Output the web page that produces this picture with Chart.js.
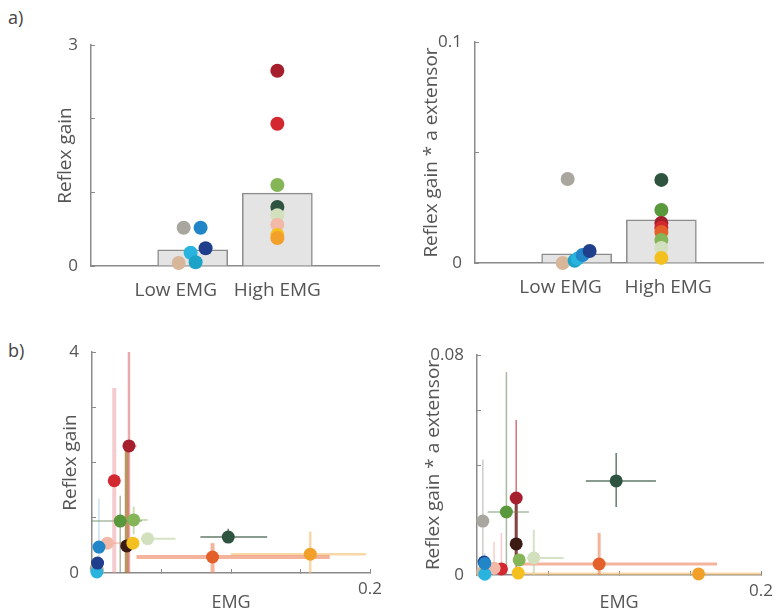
<!DOCTYPE html>
<html><head><meta charset="utf-8">
<script src="https://cdn.jsdelivr.net/npm/chart.js@4.4.1/dist/chart.umd.min.js"></script>
<style>
html,body{margin:0;padding:0;background:#fff;width:783px;height:616px;overflow:hidden;}
canvas{position:absolute;}
.lab{position:absolute;font-family:"Open Sans",sans-serif;font-size:18px;line-height:1;color:#444;}
</style></head><body>
<div class="lab" style="left:8px;top:8px">a)</div>
<div class="lab" style="left:8px;top:341px">b)</div>
<canvas id="cA" width="392" height="310" style="left:0;top:0"></canvas>
<canvas id="cB" width="391" height="310" style="left:392px;top:0"></canvas>
<canvas id="cC" width="392" height="306" style="left:0;top:310px"></canvas>
<canvas id="cD" width="391" height="306" style="left:392px;top:310px"></canvas>
<script>
// ---------------- DATA ----------------
const catLabels = ['Low EMG', 'High EMG'];

// panel a-left: Reflex gain
const barMeansA = [0.22, 0.99];
const lowDotsA  = [0.52, 0.52, 0.24, 0.18, 0.05, 0.04];
const highDotsA = [2.65, 1.93, 1.10, 0.80, 0.69, 0.56, 0.42, 0.38];
const yTicksA = [0, 1, 2, 3];
const yTickLabelsA = ['0', '', '', '3'];

// panel a-right: Reflex gain * a extensor
const barMeansB = [0.0042, 0.0195];
const lowDotsB  = [0.038, 0.0, 0.001, 0.002, 0.0036, 0.0054];
const highDotsB = [0.0376, 0.024, 0.0181, 0.016, 0.014, 0.0104, 0.0068, 0.0023];
const yTicksB = [0, 0.05, 0.1];
const yTickLabelsB = ['0', '', '0.1'];

// panel b: per subject (draw order)
// darkred, red, orangered, orange, darkgreen, palegreen, green, green2, darkbrown, yellow, peach, gray, tan, cyan, darkblue, blue
const emgC    = [0.0266, 0.016, 0.0867, 0.157, 0.098, 0.040, 0.0203, 0.030, 0.025, 0.0294, 0.011, 0.003, 0.004, 0.0035, 0.004, 0.005];
const gainC   = [2.30, 1.67, 0.29, 0.34, 0.65, 0.62, 0.94, 0.96, 0.49, 0.54, 0.54, 0.08, 0.05, 0.02, 0.18, 0.47];
const emgLoC  = [0.022, null, 0.032, 0.100, 0.078, 0.035, 0.000, 0.024, null, null, 0.008, null, null, null, null, null];
const emgHiC  = [0.032, null, 0.171, 0.197, 0.126, 0.060, 0.036, 0.040, null, null, 0.030, null, null, null, null, null];
const gainLoC = [0, 0, 0, 0, 0.55, null, 0, 0.70, 0, null, null, null, null, null, null, 0];
const gainHiC = [4.0, 3.35, 0.54, 0.75, 0.80, null, 1.40, 1.20, 2.30, null, null, null, null, null, null, 1.35];
const yTicksC = [0, 1, 2, 3, 4];
const yTickLabelsC = ['0', '', '', '', '4'];

const emgD    = [0.0276, 0.0172, 0.086, 0.156, 0.098, 0.040, 0.0207, 0.0297, 0.0276, 0.029, 0.012, 0.0041, 0.004, 0.0055, 0.005, 0.0055];
const gainD   = [0.028, 0.0022, 0.004, 0.0004, 0.0342, 0.0062, 0.0229, 0.0055, 0.0113, 0.0007, 0.0025, 0.0196, 0.001, 0.0003, 0.0047, 0.0042];
const emgLoD  = [null, null, 0.0297, 0.030, 0.0766, 0.035, 0.0076, null, null, null, null, null, null, null, null, null];
const emgHiD  = [null, null, 0.169, 0.200, 0.126, 0.061, 0.0366, null, null, null, null, null, null, null, null, null];
const gainLoD = [0, 0, 0, null, 0.0247, 0, 0, null, 0.004, null, 0, 0, null, null, null, 0];
const gainHiD = [0.0564, 0.0153, 0.0153, null, 0.0444, 0.0164, 0.0738, null, 0.028, null, 0.012, 0.042, null, null, null, 0.008];
const yTicksD = [0, 0.02, 0.04, 0.06, 0.08];
const yTickLabelsD = ['0', '', '', '', '0.08'];

const emgTicks = [0, 0.05, 0.1, 0.15, 0.2];
const emgTickLabels = ['', '', '', '', '0.2'];

// ---------------- STYLE / LAYOUT ----------------
const P = {darkred:'#a51f2c', red:'#d3282f', orangered:'#e3602b', orange:'#f2a02a', yellow:'#f3c01f',
  peach:'#f2b9a8', green2:'#84b556', green:'#5a983c', darkgreen:'#2e5440', palegreen:'#d2e0be',
  darkbrown:'#3b1b13', gray:'#a8a69e', blue:'#2186c7', darkblue:'#1f3e8b', cyan:'#29b3df', teal:'#1da3c8', tan:'#d8b699'};
const lowColA  = [P.gray, P.blue, P.darkblue, P.cyan, P.teal, P.tan];
const lowJitA  = [-0.106, 0.094, 0.153, -0.024, 0.035, -0.165];
const highColA = [P.darkred, P.red, P.green2, P.darkgreen, P.palegreen, P.peach, P.yellow, P.orange];
const lowColB  = [P.gray, P.tan, P.teal, P.cyan, P.blue, P.darkblue];
const lowJitB  = [-0.106, -0.165, -0.024, 0.012, 0.07, 0.153];
const highColB = [P.darkgreen, P.green, P.darkred, P.red, P.orangered, P.green2, P.palegreen, P.yellow];
const subjCol = [P.darkred, P.red, P.orangered, P.orange, P.darkgreen, P.palegreen, P.green, P.green2, P.darkbrown, P.yellow, P.peach, P.gray, P.tan, P.cyan, P.darkblue, P.blue];
const errCol = ['rgba(215,100,105,0.55)','rgba(236,140,150,0.45)','rgba(236,130,90,0.6)','rgba(245,190,110,0.6)',
  'rgba(60,90,70,0.8)','rgba(200,220,180,0.8)','rgba(110,140,100,0.6)','rgba(150,190,110,0.5)',
  'rgba(165,115,45,0.75)','rgba(240,200,80,0.5)','rgba(245,190,175,0.7)','rgba(170,170,165,0.6)',
  'rgba(215,180,150,0.5)','rgba(120,190,225,0.4)','rgba(80,110,180,0.4)','rgba(120,180,220,0.4)'];
const errColD = errCol.slice(); errColD[8] = 'rgba(70,30,25,0.85)'; errColD[0] = 'rgba(190,60,65,0.7)';
const errW  = [2.5, 4, 4, 2.5, 1.5, 2, 1.5, 2, 4, 2, 2, 1.5, 1.5, 1.5, 1.5, 1.5];
const errWD = [1.5, 1.5, 3, 3, 1.5, 2, 1.5, 2, 3, 2, 1.5, 1.5, 1.5, 1.5, 1.5, 1.5];
const catPos = [1.2, 2.2];
const AXIS = '#8a8a8a';
const TXT = '#555';

Chart.defaults.font.family = '"Open Sans", "DejaVu Sans", sans-serif';
Chart.defaults.font.size = 17;
Chart.defaults.color = TXT;
Chart.defaults.animation = false;

function yAxis(min, max, ticks, labels, title, width, titlePad, labPad) {
  return {
    type: 'linear', min, max,
    afterBuildTicks: s => { s.ticks = ticks.map(v => ({value: v})); },
    afterFit: s => { s.width = width; },
    ticks: {callback: (v, i) => labels[i], padding: labPad, autoSkip: false, color: TXT, font: {size: 17}},
    grid: {drawOnChartArea: false, color: AXIS, tickLength: -4, lineWidth: 1},
    border: {color: AXIS, width: 1.5},
    title: {display: true, text: title, color: TXT, font: {size: 19}, padding: {top: titlePad, bottom: 0}}
  };
}
function catAxis(height, labelShift) {
  return {
    type: 'linear', min: 0, max: 3.4, offset: false,
    afterBuildTicks: s => { s.ticks = catLabels.map((_, i) => ({value: catPos[i] + labelShift[i]})); },
    afterFit: s => { s.height = height; },
    ticks: {callback: (v, i) => catLabels[i], padding: 5, autoSkip: false, maxRotation: 0, color: TXT, font: {size: 19}},
    grid: {display: false, offset: false},
    border: {color: AXIS, width: 1.5}
  };
}
function emgAxis(height) {
  return {
    type: 'linear', min: 0, max: 0.2,
    afterBuildTicks: s => { s.ticks = emgTicks.map(v => ({value: v})); },
    afterFit: s => { s.height = height; },
    ticks: {callback: (v, i) => emgTickLabels[i], padding: 10, autoSkip: false, maxRotation: 0, color: TXT, font: {size: 17}},
    grid: {drawOnChartArea: false, color: AXIS, tickLength: -4, lineWidth: 1},
    border: {color: AXIS, width: 1.5},
    title: {display: true, text: 'EMG', color: TXT, font: {size: 18}, padding: {top: 0, bottom: 2}}
  };
}
function dotsDataset(points, colors, r) {
  return {type: 'scatter', data: points, pointRadius: r, pointHoverRadius: r,
    pointBackgroundColor: colors, pointBorderWidth: 0, clip: false, order: 1};
}
function barChart(id, means, low, lowCol, lowJit, high, highCol, yax, xHeight, labelShift, pad) {
  new Chart(document.getElementById(id), {
    type: 'bar',
    data: {datasets: [
      {type: 'bar', data: means.map((m, i) => ({x: catPos[i], y: m})), barThickness: 70,
       backgroundColor: '#e4e4e4', borderColor: '#8c8c8c', borderWidth: 1.5, order: 3},
      dotsDataset(low.map((v, i) => ({x: catPos[0] + lowJit[i], y: v})), lowCol, 7),
      dotsDataset(high.map(v => ({x: catPos[1], y: v})), highCol, 7)
    ]},
    options: {responsive: false, animation: false, layout: {padding: pad},
      plugins: {legend: {display: false}, tooltip: {enabled: false}},
      scales: {x: catAxis(xHeight, labelShift), y: yax}}
  });
}
function errSets(xs, ys, xlo, xhi, ylo, yhi, cols, widths) {
  const ds = [];
  xs.forEach((x, i) => {
    const seg = d => ({type: 'scatter', data: d, showLine: true, pointRadius: 0, borderColor: cols[i],
      borderWidth: widths[i], borderCapStyle: 'butt', fill: false, order: 2});
    if (xlo[i] != null) ds.push(seg([{x: xlo[i], y: ys[i]}, {x: xhi[i], y: ys[i]}]));
    if (ylo[i] != null) ds.push(seg([{x: x, y: ylo[i]}, {x: x, y: yhi[i]}]));
  });
  return ds;
}
function scatterChart(id, xs, ys, xlo, xhi, ylo, yhi, ecol, ew, yax, xHeight, pad) {
  new Chart(document.getElementById(id), {
    type: 'scatter',
    data: {datasets: errSets(xs, ys, xlo, xhi, ylo, yhi, ecol, ew).concat([
      dotsDataset(xs.map((x, i) => ({x, y: ys[i]})), subjCol, 6.5)])},
    options: {responsive: false, animation: false, layout: {padding: pad},
      plugins: {legend: {display: false}, tooltip: {enabled: false}},
      scales: {x: emgAxis(xHeight), y: yax}}
  });
}

barChart('cA', barMeansA, lowDotsA, lowColA, lowJitA, highDotsA, highColA,
  yAxis(0, 3, yTicksA, yTickLabelsA, 'Reflex gain', 91, 54, 17), 44, [-0.2, 0], {left: 0, top: 45, right: 13, bottom: 0});
barChart('cB', barMeansB, lowDotsB, lowColB, lowJitB, highDotsB, highColB,
  yAxis(0, 0.1, yTicksB, yTickLabelsB, 'Reflex gain * a extensor', 83, 28, 17), 47, [-0.19, 0.08], {left: 0, top: 42, right: 20, bottom: 0});
scatterChart('cC', emgC, gainC, emgLoC, emgHiC, gainLoC, gainHiC, errCol, errW,
  yAxis(0, 4, yTicksC, yTickLabelsC, 'Reflex gain', 92, 59, 17), 43, {left: 0, top: 42, right: 14, bottom: 0});
scatterChart('cD', emgD, gainD, emgLoD, emgHiD, gainLoD, gainHiD, errColD, errWD,
  yAxis(0, 0.08, yTicksD, yTickLabelsD, 'Reflex gain * a extensor', 85, 30, 17), 41, {left: 0, top: 45, right: 16, bottom: 0});
</script>
</body></html>
